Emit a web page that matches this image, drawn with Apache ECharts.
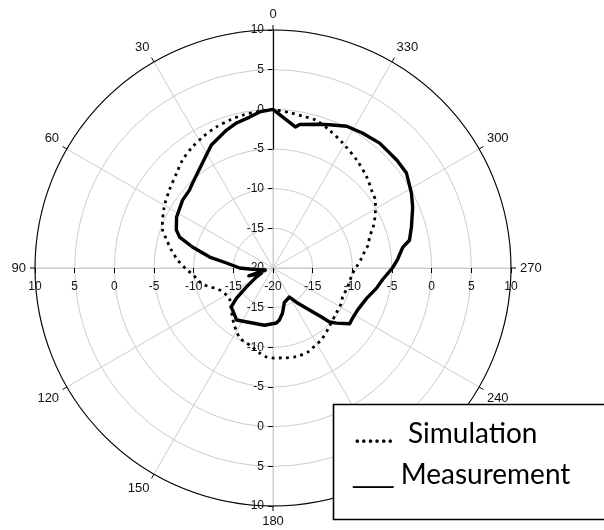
<!DOCTYPE html>
<html><head><meta charset="utf-8">
<script src="https://cdn.jsdelivr.net/npm/echarts@6/dist/echarts.min.js"></script>
<style>html,body{margin:0;padding:0;background:#fff}#c{width:604px;height:530px}</style>
</head><body><div id="c"></div>
<script>
// ---- tick labels ----
const angleMin = 0, angleMax = 360, angleStep = 30;
const radiusMin = -20, radiusMax = 10, radiusStep = 5;
const darkSegmentFrom = -5; // black part of the 0° radial axis

// ---- Simulation (dotted) : angle in degrees, value in dB ----
const simAngles = [0,6,11,16,22,28,34,40,45,53,61,70,75,80,85,91,95,99,103,107,110,114,120,125,131,136,140,146,150,155,160,165,171,176,181,186,195,203,208,214,223,234,242,248,255,260,266,271,276,280,284,288,292,298,303,308,314,322,331,338,344,349,354,360];
const simValues = [0,-0.2,-0.35,-0.55,-0.85,-1.25,-1.7,-2.25,-2.9,-3.65,-4.3,-5.15,-6.1,-7.0,-7.9,-9.1,-9.9,-10.4,-10.9,-11.8,-12.4,-12.9,-13.2,-13.3,-12.9,-12.5,-12.0,-11.3,-10.8,-10.2,-10.0,-9.7,-9.15,-8.75,-8.65,-8.6,-8.45,-8.55,-8.85,-9.1,-9.7,-10.2,-10.3,-10.5,-10.3,-10.2,-9.95,-9.45,-8.8,-8.3,-7.6,-7.2,-6.4,-5.4,-4.6,-4.2,-3.55,-2.8,-1.95,-1.2,-0.6,-0.5,-0.3,0];

// ---- Measurement (solid), in drawing order ----
const measAngles = [0,351,349.5,343,338.5,332.5,326.5,319.5,311,305.5,298.5,293.5,286.5,281.5,279,274,270,264,259,252,243.5,238,234,229,226.3,224.7,221,215,209.5,208,198,192,187,183.5,171.5,159.5,145,136,133,129.5,125.5,118.5,113.5,108,105,92.4,90,83.9,80.2,75.4,71.7,68.5,62.1,53.1,47,43.4,33.9,26.6,18.6,14.1,8.8,4.9,0];
const measValues = [0,-2.0,-1.6,-1.05,-0.6,0.15,0.4,0.7,0.7,0.65,-0.15,-0.8,-1.8,-2.45,-3.45,-4.25,-4.95,-6.1,-6.7,-7.6,-8.1,-8.15,-8.05,-9.4,-10.15,-11.3,-13.0,-14.6,-15.8,-16.1,-15.4,-14.2,-13.4,-13.05,-12.7,-12.6,-12.0,-12.65,-12.8,-14.05,-15.9,-17.6,-18.4,-16.8,-19.0,-17.0,-15.8,-14.1,-11.9,-9.5,-7.6,-6.9,-6.25,-5.75,-5.6,-5.25,-4.05,-2.65,-1.65,-1.15,-0.75,-0.25,0];

const legendMarks = ['......', '___'];
const legendNames = ['Simulation', 'Measurement'];

const C = [273, 268], R = 238;
const GRID = '#cccccc';
const LBL = {color:'#111', fontSize:12, fontFamily:'Liberation Sans, Arial, sans-serif'};
const innerDark = R * (darkSegmentFrom - radiusMin) / (radiusMax - radiusMin);

function hiddenAngle(i, start){
  return {polarIndex:i, type:'value', min:angleMin, max:angleMax, startAngle:start, clockwise:false, show:false};
}
function radAx(i, extra){
  return Object.assign({polarIndex:i, type:'value', min:radiusMin, max:radiusMax, interval:radiusStep,
    axisLine:{show:true, lineStyle:{color:GRID, width:1}},
    splitLine:{show:false}}, extra);
}

const chart = echarts.init(document.getElementById('c'), null, {renderer:'canvas'});
chart.setOption({
  animation:false,
  backgroundColor:'#fff',
  polar:[
    {center:C, radius:R},
    {center:C, radius:R},
    {center:C, radius:R},
    {center:C, radius:R},
    {center:C, radius:[innerDark, R]}
  ],
  angleAxis:[
    {polarIndex:0, type:'value', min:angleMin, max:angleMax, interval:angleStep, startAngle:90, clockwise:false, z:2,
      axisLine:{show:true, lineStyle:{color:'#000', width:1.1}},
      axisTick:{show:true, length:5, lineStyle:{color:'#000'}},
      axisLabel:{margin:9, color:'#111', fontSize:13, fontFamily:'Liberation Sans, Arial, sans-serif'},
      splitLine:{show:true, lineStyle:{color:GRID, width:1}}},
    hiddenAngle(1,180), hiddenAngle(2,0), hiddenAngle(3,270), hiddenAngle(4,90)
  ],
  radiusAxis:[
    radAx(0, {axisTick:{show:true, length:5, lineStyle:{color:'#000'}},
      axisLabel:Object.assign({margin:9, verticalAlign:'middle'}, LBL),
      splitLine:{show:true, lineStyle:{color:GRID, width:1}}, z:1}),
    radAx(1, {axisTick:{show:true, length:5, lineStyle:{color:'#000'}}, z:2,
      axisLabel:Object.assign({margin:19, verticalAlign:'middle', align:'center'}, LBL)}),
    radAx(2, {axisTick:{show:true, length:-5, lineStyle:{color:'#000'}}, z:2,
      axisLabel:Object.assign({margin:-19, verticalAlign:'middle', align:'center', showMinLabel:false}, LBL)}),
    radAx(3, {axisTick:{show:true, length:-5, lineStyle:{color:'#000'}}, z:2,
      axisLabel:Object.assign({margin:-9, verticalAlign:'middle', align:'right', showMinLabel:false}, LBL)}),
    {polarIndex:4, type:'value', min:darkSegmentFrom, max:radiusMax, z:3,
      axisLine:{show:true, lineStyle:{color:'#000', width:1.2}},
      axisTick:{show:false}, axisLabel:{show:false}, splitLine:{show:false}}
  ],
  series:[
    {name:'Simulation', type:'line', coordinateSystem:'polar', polarIndex:0, symbol:'none', smooth:0.3,
      data: simAngles.map((a,i)=>[simValues[i], a]),
      lineStyle:{color:'#000', width:2.8, type:[2.8,4.4], cap:'butt'}, z:5, silent:true},
    {name:'Measurement', type:'line', coordinateSystem:'polar', polarIndex:0, symbol:'none',
      data: measAngles.map((a,i)=>[measValues[i], a]),
      lineStyle:{color:'#000', width:3.4, join:'round'}, z:6, silent:true}
  ],
  graphic:[
    {type:'rect', z:100, shape:{x:333.5, y:404.5, width:290, height:115}, style:{fill:'#fff', stroke:'#000', lineWidth:1.6}},
    {type:'text', z:101, style:{x:354, y:434, fill:'#000', verticalAlign:'middle',
      text:'{m|' + legendMarks[0] + '}{t|\u00a0\u00a0' + legendNames[0] + '}',
      rich:{m:{fontFamily:'Lato, sans-serif', fontSize:28, fill:'#000'}, t:{fontFamily:'Lato, sans-serif', fontSize:28, fill:'#000'}}}},
    {type:'text', z:101, style:{x:353, y:475, fill:'#000', verticalAlign:'middle',
      text:'{m|' + legendMarks[1] + '}{t|\u00a0' + legendNames[1] + '}',
      rich:{m:{fontFamily:'DejaVu Sans, sans-serif', fontSize:27, fill:'#000'}, t:{fontFamily:'Lato, sans-serif', fontSize:28, fill:'#000'}}}}
  ]
});
</script></body></html>
